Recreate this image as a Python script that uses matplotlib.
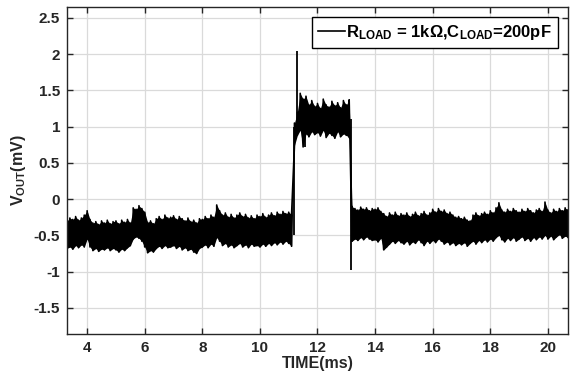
"""
Output voltage transient: V_OUT vs time, R_LOAD = 1 kOhm, C_LOAD = 200 pF
"""

import numpy as np
import matplotlib
matplotlib.use("Agg")
import matplotlib.pyplot as plt

plt.rcParams['font.family'] = ['Liberation Sans', 'DejaVu Sans']
plt.rcParams['font.weight'] = 'bold'
plt.rcParams['axes.unicode_minus'] = False
plt.rcParams['mathtext.fontset'] = 'custom'
plt.rcParams['mathtext.rm'] = 'Liberation Sans:bold'
plt.rcParams['mathtext.bf'] = 'Liberation Sans:bold'
plt.rcParams['mathtext.it'] = 'Liberation Sans:bold'

# sample times (ms), 0.1 ms apart, 3.3 .. 20.7
time_ms = np.round(np.arange(3.3, 20.75, 0.1), 2)

# upper edge of the noisy trace (mV)
v_high = [
    -0.30, -0.26, -0.28, -0.24, -0.29, -0.26, -0.22,
    -0.16, -0.28, -0.33, -0.31, -0.35, -0.30, -0.33, -0.29, -0.34, -0.31,
    -0.30, -0.34, -0.29, -0.32, -0.28, -0.33, -0.12, -0.14, -0.09, -0.13,
    -0.18, -0.32, -0.30, -0.34, -0.27, -0.24, -0.28, -0.22, -0.26, -0.25,
    -0.23, -0.28, -0.24, -0.27, -0.30, -0.26, -0.31, -0.29, -0.33, -0.27,
    -0.28, -0.24, -0.27, -0.22, -0.25, -0.08, -0.16, -0.22, -0.19, -0.25,
    -0.21, -0.26, -0.22, -0.19, -0.24, -0.21, -0.26, -0.23, -0.27, -0.22,
    -0.24, -0.20, -0.25, -0.22, -0.19, -0.23, -0.18, -0.21, -0.17, -0.20,
    -0.18, -0.21, 1.05, 1.20, 1.46, 1.38, 1.42, 1.30, 1.36, 1.28,
    1.32, 1.25, 1.38, 1.30, 1.27, 1.35, 1.29, 1.33, 1.26, 1.36,
    1.30, 1.37, -0.10, -0.13, -0.15, -0.11, -0.14, -0.12, -0.16, -0.13,
    -0.14, -0.12, -0.17, -0.20, -0.24, -0.19, -0.22, -0.18, -0.23, -0.20,
    -0.22, -0.19, -0.24, -0.21, -0.18, -0.23, -0.20, -0.17, -0.22, -0.19,
    -0.14, -0.18, -0.13, -0.17, -0.15, -0.20, -0.18, -0.22, -0.25, -0.24,
    -0.27, -0.25, -0.29, -0.30, -0.22, -0.19, -0.23, -0.20, -0.18, -0.21,
    -0.16, -0.19, -0.12, -0.05, -0.15, -0.18, -0.14, -0.17, -0.13, -0.16,
    -0.18, -0.14, -0.17, -0.13, -0.16, -0.19, -0.15, -0.13, -0.17, -0.04,
    -0.15, -0.19, -0.14, -0.17, -0.13, -0.16, -0.12, -0.15,
]

# lower edge of the noisy trace (mV)
v_low = [
    -0.68, -0.66, -0.69, -0.64, -0.67, -0.63, -0.66,
    -0.55, -0.66, -0.71, -0.68, -0.72, -0.69, -0.70, -0.67, -0.71, -0.68,
    -0.70, -0.73, -0.69, -0.71, -0.67, -0.64, -0.55, -0.52, -0.54, -0.58,
    -0.66, -0.74, -0.71, -0.73, -0.68, -0.65, -0.68, -0.64, -0.67, -0.66,
    -0.64, -0.68, -0.65, -0.70, -0.67, -0.71, -0.69, -0.73, -0.75, -0.68,
    -0.66, -0.63, -0.67, -0.62, -0.65, -0.53, -0.58, -0.64, -0.61, -0.66,
    -0.63, -0.67, -0.64, -0.61, -0.66, -0.63, -0.67, -0.62, -0.65, -0.64,
    -0.66, -0.62, -0.65, -0.61, -0.64, -0.60, -0.63, -0.59, -0.62, -0.58,
    -0.61, -0.65, 0.74, 0.88, 0.95, 0.72, 0.90, 0.86, 0.93, 0.89,
    0.92, 0.87, 0.95, 0.85, 0.91, 0.88, 0.84, 0.93, 0.86, 0.90,
    0.88, 0.85, -0.58, -0.55, -0.57, -0.53, -0.56, -0.52, -0.55, -0.57,
    -0.56, -0.59, -0.54, -0.70, -0.66, -0.62, -0.58, -0.61, -0.57, -0.60,
    -0.62, -0.58, -0.63, -0.59, -0.61, -0.56, -0.60, -0.64, -0.58, -0.61,
    -0.57, -0.60, -0.55, -0.58, -0.62, -0.59, -0.63, -0.60, -0.64, -0.61,
    -0.63, -0.60, -0.65, -0.61, -0.58, -0.62, -0.57, -0.60, -0.56, -0.59,
    -0.55, -0.58, -0.53, -0.50, -0.56, -0.59, -0.54, -0.57, -0.53, -0.58,
    -0.55, -0.52, -0.57, -0.54, -0.58, -0.53, -0.56, -0.52, -0.55, -0.50,
    -0.55, -0.51, -0.56, -0.52, -0.49, -0.54, -0.51, -0.53,
]

# single fast excursions: edges of the pulse and the glitches
spike_t = [3.3, 11.2, 11.3, 11.55, 13.17]
spike_lo = [-0.81, -0.50, 0.90, 0.72, -0.98]
spike_hi = [-0.40, 1.00, 2.04, 1.10, 1.10]

x_ticks = [4, 6, 8, 10, 12, 14, 16, 18, 20]
y_ticks = [-1.5, -1, -0.5, 0, 0.5, 1, 1.5, 2, 2.5]
y_tick_labels = ['-1.5', '-1', '-0.5', '0', '0.5', '1', '1.5', '2', '2.5']

legend_label = r'R$_{\mathrm{LOAD}}$ = 1k$\Omega$,C$_{\mathrm{LOAD}}$=200pF'

axis_color = '#262626'

fig = plt.figure(figsize=(5.7, 3.78), dpi=100)
ax = fig.add_axes([0.1175, 0.1164, 0.879, 0.865])

lo = np.array(v_low)
hi = np.array(v_high)

# dense trace: fill between edges, then zig-zag line through them
ax.fill_between(time_ms, lo, hi, color='black', linewidth=0)
trace_x = np.repeat(time_ms, 2)
trace_y = np.column_stack([lo, hi]).ravel()
ax.plot(trace_x, trace_y, color='black', linewidth=1.2, label=legend_label)
ax.vlines(spike_t, spike_lo, spike_hi, color='black', linewidth=1.3)

ax.set_xlim(3.3, 20.7)
ax.set_ylim(-1.86, 2.65)
ax.set_xticks(x_ticks)
ax.set_yticks(y_ticks)
ax.set_yticklabels(y_tick_labels)

ax.grid(True, color='#dadada', linewidth=0.9)
ax.set_axisbelow(True)
ax.tick_params(direction='in', top=True, right=True, length=4, width=1,
               labelsize=11, pad=5, colors=axis_color)
for s in ax.spines.values():
    s.set_linewidth(1.0)
    s.set_color(axis_color)

ax.set_xlabel('TIME(ms)', fontsize=11.5, fontweight='bold', labelpad=1,
              color=axis_color)
ax.set_ylabel(r'V$_{\mathrm{OUT}}$(mV)', fontsize=11.5, fontweight='bold',
              labelpad=4, color=axis_color)

leg = ax.legend(loc='upper right', fontsize=12, handlelength=1.6,
                handletextpad=0.1, borderpad=0.35, borderaxespad=0.6,
                fancybox=False, framealpha=1)
leg.get_frame().set_edgecolor('black')
leg.get_frame().set_linewidth(1.0)

fig.savefig('out.png', dpi=100)
